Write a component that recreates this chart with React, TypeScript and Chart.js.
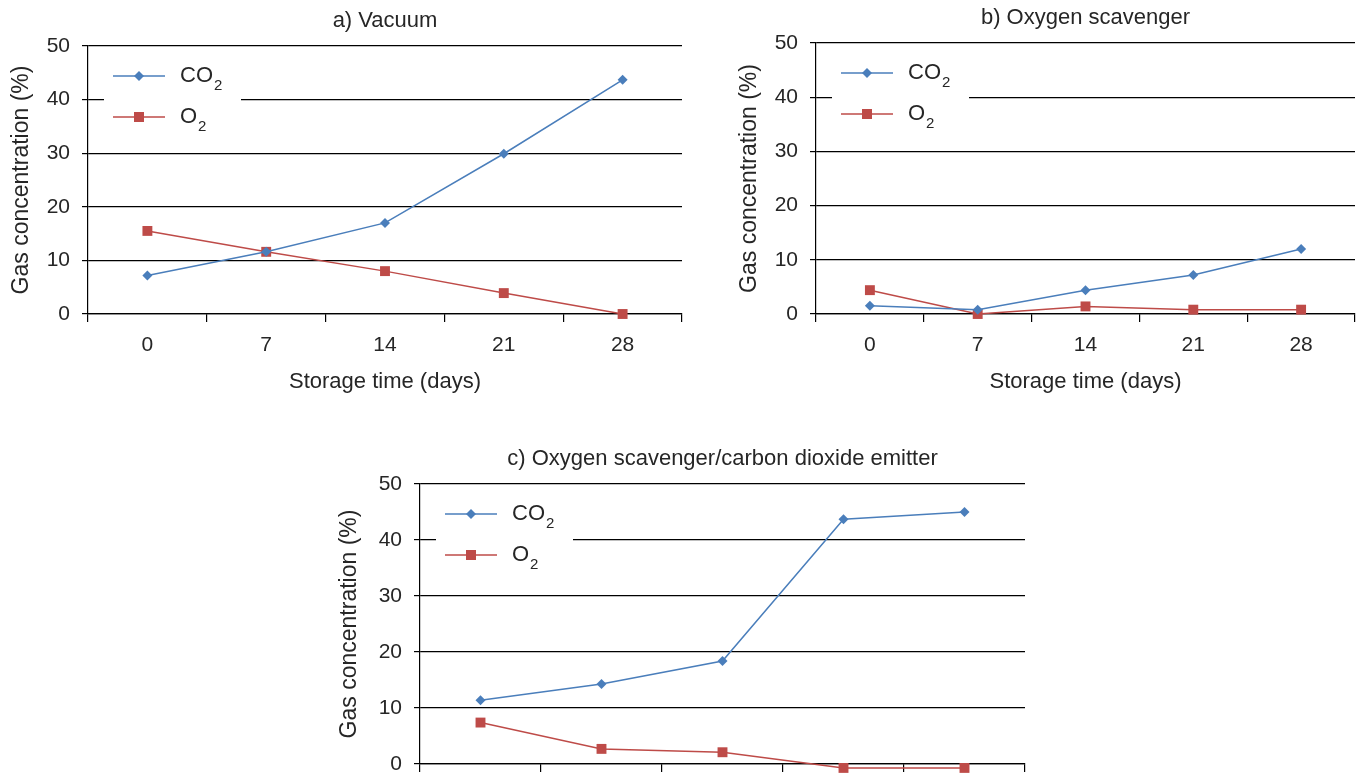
import React, { useEffect, useRef } from 'react';
import { Chart, registerables } from 'chart.js';

Chart.register(...registerables);

const days = ['0', '7', '14', '21', '28'];
const vacuumCO2 = [7.2, 11.6, 17.0, 29.9, 43.7];
const vacuumO2 = [15.5, 11.6, 8.0, 3.9, 0];
const scavengerCO2 = [1.5, 0.8, 4.4, 7.2, 12.0];
const scavengerO2 = [4.4, 0, 1.4, 0.8, 0.8];
const emitterCO2 = [11.4, 14.3, 18.4, 43.7, 45.0];
const emitterO2 = [7.4, 2.7, 2.1, -0.7, -0.7];
const yMin = 0;
const yMax = 50;
const yStep = 10;
const legendBase = ['CO', 'O'];
const legendSub = ['2', '2'];

const FONT = '"Liberation Sans", Arial, sans-serif';
const TEXT = '#262626';
const BLUE = '#4a7ebb';
const RED = '#be4b48';

const overlayPlugin = {
  id: 'overlay',
  beforeDatasetsDraw(chart: any) {
    const { ctx, chartArea } = chart;
    const l = chartArea.left;
    const t = chartArea.top;
    ctx.save();
    ctx.fillStyle = '#fff';
    ctx.fillRect(l + 16, t + 8, 137, 90);
    const ys = [t + 30, t + 71];
    chart.data.datasets.forEach((ds: any, i: number) => {
      const y = ys[i];
      ctx.strokeStyle = ds.borderColor;
      ctx.lineWidth = 1.5;
      ctx.beginPath();
      ctx.moveTo(l + 25, y);
      ctx.lineTo(l + 77, y);
      ctx.stroke();
      ctx.fillStyle = ds.backgroundColor;
      if (ds.pointStyle === 'rectRot') {
        const r = 5;
        ctx.beginPath();
        ctx.moveTo(l + 51, y - r);
        ctx.lineTo(l + 51 + r, y);
        ctx.lineTo(l + 51, y + r);
        ctx.lineTo(l + 51 - r, y);
        ctx.closePath();
        ctx.fill();
      } else {
        ctx.fillRect(l + 51 - 5, y - 5, 10, 10);
      }
      ctx.fillStyle = TEXT;
      ctx.textBaseline = 'middle';
      ctx.textAlign = 'left';
      ctx.font = `22px ${FONT}`;
      const base = legendBase[i];
      ctx.fillText(base, l + 92, y);
      const w = ctx.measureText(base).width;
      ctx.font = `15px ${FONT}`;
      ctx.fillText(legendSub[i], l + 92 + w + 1, y + 10);
    });
    ctx.restore();
  },
  afterDraw(chart: any) {
    const { ctx, chartArea } = chart;
    const title = chart.options.plugins.overlay.title;
    ctx.save();
    ctx.fillStyle = TEXT;
    ctx.font = `22px ${FONT}`;
    ctx.textAlign = 'center';
    ctx.textBaseline = 'middle';
    ctx.fillText(title, (chartArea.left + chartArea.right) / 2, chartArea.top - 25);
    ctx.restore();
  },
};

function makeConfig(title: string, co2: number[], o2: number[], yWidth: number, pad: any) {
  return {
    type: 'line' as const,
    data: {
      labels: days,
      datasets: [
        {
          label: 'CO2',
          data: co2,
          borderColor: BLUE,
          backgroundColor: BLUE,
          borderWidth: 1.5,
          pointStyle: 'rectRot',
          pointRadius: 5,
          pointBorderWidth: 0,
          clip: false,
          tension: 0,
        },
        {
          label: 'O2',
          data: o2,
          borderColor: RED,
          backgroundColor: RED,
          borderWidth: 1.5,
          pointStyle: 'rect',
          pointRadius: 7,
          pointBorderWidth: 0,
          clip: false,
          tension: 0,
        },
      ],
    },
    options: {
      responsive: false,
      animation: false,
      layout: { padding: pad },
      plugins: {
        legend: { display: false },
        tooltip: { enabled: false },
        title: { display: false },
        overlay: { title },
      },
      scales: {
        x: {
          type: 'category',
          offset: true,
          grid: {
            offset: true,
            drawOnChartArea: false,
            drawTicks: true,
            tickLength: 8,
            color: '#000',
            lineWidth: 1.2,
          },
          border: { display: true, color: '#000', width: 1.2 },
          ticks: { color: TEXT, font: { family: FONT, size: 21 }, padding: 11 },
          title: {
            display: true,
            text: 'Storage time (days)',
            color: TEXT,
            font: { family: FONT, size: 22 },
            padding: { top: 0, bottom: 5 },
          },
          afterFit: (s: any) => {
            s.height = 86;
          },
        },
        y: {
          min: yMin,
          max: yMax,
          grid: { color: '#000', lineWidth: 1.2, drawTicks: true, tickLength: 6 },
          border: { display: true, color: '#000', width: 1.2 },
          ticks: { stepSize: yStep, color: TEXT, font: { family: FONT, size: 21 }, padding: 12 },
          title: {
            display: true,
            text: 'Gas concentration (%)',
            color: TEXT,
            font: { family: FONT, size: 23 },
            padding: { top: 8, bottom: 0 },
          },
          afterFit: (s: any) => {
            s.width = yWidth;
          },
        },
      },
    },
    plugins: [overlayPlugin],
  };
}

function LineChart(props: {
  left: number;
  top: number;
  width: number;
  height: number;
  title: string;
  co2: number[];
  o2: number[];
  yWidth: number;
  pad: any;
}) {
  const ref = useRef<HTMLCanvasElement>(null);
  useEffect(() => {
    if (!ref.current) return;
    const chart = new Chart(ref.current, makeConfig(props.title, props.co2, props.o2, props.yWidth, props.pad) as any);
    return () => chart.destroy();
  }, []);
  return (
    <canvas
      ref={ref}
      width={props.width}
      height={props.height}
      style={{ position: 'absolute', left: props.left, top: props.top, width: props.width, height: props.height }}
    />
  );
}

export default function App() {
  return (
    <div
      style={{
        position: 'absolute',
        left: 0,
        top: 0,
        width: 1365,
        height: 773,
        overflow: 'hidden',
        background: '#fff',
      }}
    >
      <LineChart left={0} top={0} width={690} height={400} title="a) Vacuum" co2={vacuumCO2} o2={vacuumO2} yWidth={88} pad={{ top: 46, right: 8, left: 0, bottom: 0 }} />
      <LineChart left={728} top={0} width={637} height={400} title="b) Oxygen scavenger" co2={scavengerCO2} o2={scavengerO2} yWidth={88} pad={{ top: 43, right: 10, left: 0, bottom: 0 }} />
      <LineChart left={328} top={440} width={710} height={410} title="c) Oxygen scavenger/carbon dioxide emitter" co2={emitterCO2} o2={emitterO2} yWidth={92} pad={{ top: 44, right: 13, left: 0, bottom: 0 }} />
    </div>
  );
}
